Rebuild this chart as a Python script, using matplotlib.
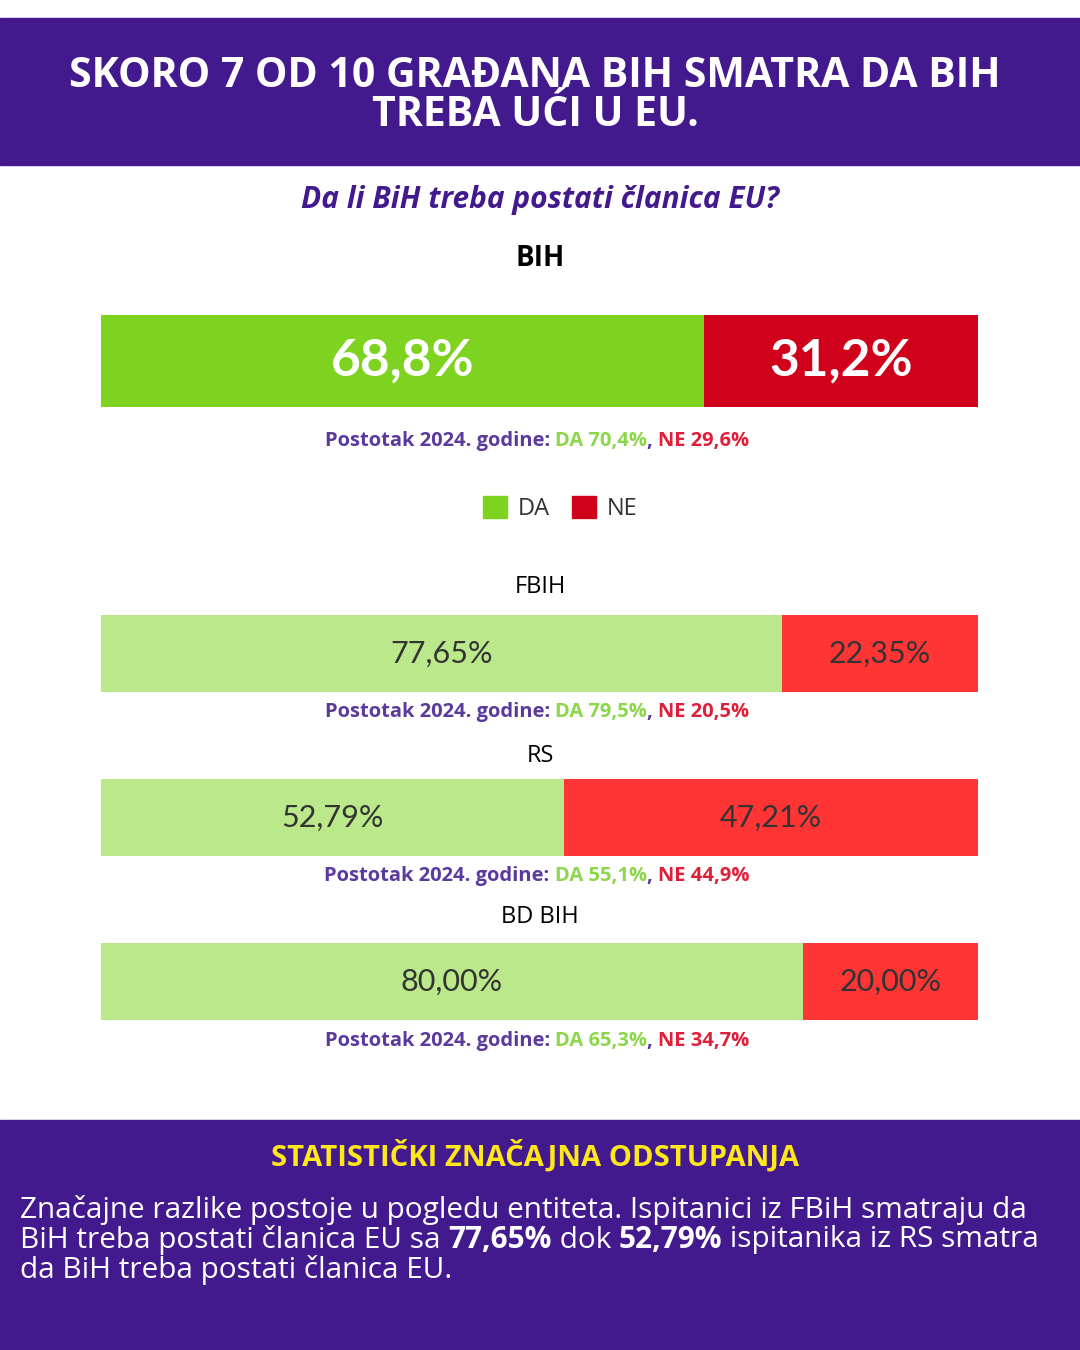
import matplotlib
matplotlib.use("Agg")
import matplotlib.pyplot as plt
from matplotlib.patches import Rectangle

regions = ["BIH", "FBIH", "RS", "BD BIH"]
da = [68.8, 77.65, 52.79, 80.00]
ne = [31.2, 22.35, 47.21, 20.00]
da_lbl = ["68,8%", "77,65%", "52,79%", "80,00%"]
ne_lbl = ["31,2%", "22,35%", "47,21%", "20,00%"]
prev_da = ["70,4%", "79,5%", "55,1%", "65,3%"]
prev_ne = ["29,6%", "20,5%", "44,9%", "34,7%"]

PURPLE = "#431A8E"
W, H = 1080, 1350
fig = plt.figure(figsize=(10.8, 13.5), dpi=100)
bg = fig.add_axes([0, 0, 1, 1])
bg.set_xlim(0, W); bg.set_ylim(H, 0); bg.axis("off")

bg.add_patch(Rectangle((0, 18), W, 147, color=PURPLE))
bg.add_patch(Rectangle((0, 1120), W, 230, color=PURPLE))
bg.text(535, 96, "SKORO 7 OD 10 GRAĐANA BIH SMATRA DA BIH\nTREBA UĆI U EU.", ha="center", va="center",
        color="white", fontsize=29.5, fontweight="bold", family="Open Sans", linespacing=0.95)
bg.text(540, 200, "Da li BiH treba postati članica EU?", ha="center", va="center", color=PURPLE,
        fontsize=21.5, fontweight="bold", style="italic", family="Open Sans")

fig.canvas.draw()
r = fig.canvas.get_renderer()

def seq(x, y, parts, fs, center=True):
    # parts: (text, color, weight)
    ts = []
    for s, c, w in parts:
        t = bg.text(0, y, s, color=c, fontweight=w, fontsize=fs, family="Open Sans", va="center")
        ts.append(t)
    widths = [t.get_window_extent(r).width for t in ts]
    cx = x - sum(widths) / 2 if center else x
    for t, wd in zip(ts, widths):
        t.set_x(cx); cx += wd

# bars: (title y, bar top, bar height, dark colours?)
rows = [(258, 315, 92, True), (587, 615, 77, False), (756, 779, 77, False), (917, 943, 77, False)]
sub_y = [441, 712, 876, 1041]
for i, (ty, top, h, dark) in enumerate(rows):
    bg.text(540, ty, regions[i], ha="center", va="center", fontsize=20 if dark else 17,
            fontweight="bold" if dark else "normal", family="Open Sans")
    ax = fig.add_axes([101 / W, 1 - (top + h) / H, 877 / W, h / H])
    g = "#7ED321" if dark else "#BAE88A"
    rd = "#D0021B" if dark else "#FF3535"
    ax.barh([0], [da[i]], color=g, height=1)
    ax.barh([0], [ne[i]], left=[da[i]], color=rd, height=1)
    ax.set_xlim(0, 100); ax.set_ylim(-0.5, 0.5); ax.axis("off")
    tc = "white" if dark else "#333333"
    fs = 37 if dark else 22
    wt = "bold" if dark else "normal"
    ax.text(da[i] / 2, 0, da_lbl[i], ha="center", va="center", color=tc, fontsize=fs, fontweight=wt, family="Lato")
    ax.text(da[i] + ne[i] / 2, 0, ne_lbl[i], ha="center", va="center", color=tc, fontsize=fs, fontweight=wt, family="Lato")
    seq(537, sub_y[i], [("Postotak 2024. godine: ", "#5B3A9E", "bold"), ("DA " + prev_da[i], "#8CD64A", "bold"),
                        (", ", "#5B3A9E", "bold"), ("NE " + prev_ne[i], "#E0203A", "bold")], 14.5)

# legend
bg.add_patch(Rectangle((483, 496), 24, 22, color="#7ED321"))
bg.text(518, 509, "DA", va="center", fontsize=17, color="#333333", family="Open Sans")
bg.add_patch(Rectangle((572, 496), 24, 22, color="#D0021B"))
bg.text(607, 509, "NE", va="center", fontsize=17, color="#333333", family="Open Sans")

bg.text(535, 1156, "STATISTIČKI ZNAČAJNA ODSTUPANJA", ha="center", va="center", color="#FFE81A",
        fontsize=21, fontweight="bold", family="Open Sans")
lines = [
    [("Značajne razlike postoje u pogledu entiteta. Ispitanici iz FBiH smatraju da", "white", "normal")],
    [("BiH treba postati članica EU sa ", "white", "normal"), ("77,65%", "white", "bold"),
     (" dok ", "white", "normal"), ("52,79%", "white", "bold"), (" ispitanika iz RS smatra", "white", "normal")],
    [("da BiH treba postati članica EU.", "white", "normal")],
]
for k, ln in enumerate(lines):
    seq(20, 1210 + 30 * k, ln, 21.4, center=False)

fig.savefig("out.png", dpi=100)
